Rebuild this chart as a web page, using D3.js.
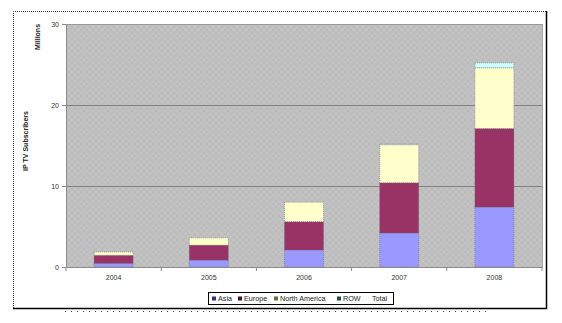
<!DOCTYPE html>
<html>
<head>
<meta charset="utf-8">
<script src="https://cdn.jsdelivr.net/npm/d3@7"></script>
<style>
  body { margin: 0; background: #fff; }
  svg { display: block; font-family: "Liberation Sans", Arial, sans-serif; }
</style>
</head>
<body>
<div id="chart"></div>
<script>
// values in millions
let years = ['2004', '2005', '2006', '2007', '2008'];
let asia = [0.45, 0.85, 2.1, 4.2, 7.4];
let europe = [1.0, 1.85, 3.5, 6.2, 9.7];
let northAmerica = [0.4, 0.9, 2.4, 4.7, 7.5];
let row = [0, 0, 0, 0.1, 0.6];
let yTicks = [0, 10, 20, 30];

let seriesNames = ['Asia', 'Europe', 'North America', 'ROW'];
let seriesColors = ['#9999ff', '#993366', '#ffffcc', '#ccffff'];
let markerColors = ['#33337a', '#4a1030', '#6b6b3a', '#1f4a4a'];

const W = 562, H = 323;
let margin = {left: 66, right: 20, top: 24, bottom: 56};

let svg = d3.select('#chart').append('svg')
    .attr('width', W)
    .attr('height', H);

// texture for the plot area
let defs = svg.append('defs');
let pat = defs.append('pattern')
    .attr('id', 'weave')
    .attr('width', 6).attr('height', 6)
    .attr('patternUnits', 'userSpaceOnUse');
pat.append('rect').attr('width', 6).attr('height', 6).attr('fill', '#c2c2c2');
pat.append('path')
    .attr('d', 'M0,3 L3,0 M3,6 L6,3 M3,0 L6,3 M0,3 L3,6')
    .attr('stroke', '#b6b6b6').attr('stroke-width', 0.7).attr('fill', 'none');

// outer frame
svg.append('path')
    .attr('d', 'M13.5,308 V11.5 H546')
    .attr('fill', 'none').attr('stroke', '#333')
    .attr('stroke-dasharray', '1,1');
svg.append('path')
    .attr('d', 'M13,308.5 H546.5 V11')
    .attr('fill', 'none').attr('stroke', '#000').attr('stroke-width', 1.5);
svg.append('line')
    .attr('x1', 65).attr('x2', 490).attr('y1', 311.5).attr('y2', 311.5)
    .attr('stroke', '#444').attr('stroke-dasharray', '1,5');

let x = d3.scaleBand()
    .domain(years)
    .range([margin.left, 542])
    .paddingInner(0.59)
    .paddingOuter(0.295);

let y = d3.scaleLinear()
    .domain([0, 30])
    .range([267, margin.top]);

// plot background
svg.append('rect')
    .attr('x', margin.left).attr('y', y(30))
    .attr('width', 542 - margin.left).attr('height', y(0) - y(30))
    .attr('fill', 'url(#weave)');

// gridlines
svg.append('g')
    .selectAll('line')
    .data(yTicks.filter(t => t > 0))
    .enter()
    .append('line')
    .attr('x1', margin.left).attr('x2', 542)
    .attr('y1', t => Math.round(y(t)) + 0.5).attr('y2', t => Math.round(y(t)) + 0.5)
    .attr('stroke', (t) => t === 30 ? '#9a9a9a' : '#808080');
svg.append('line')
    .attr('x1', 542.5).attr('x2', 542.5).attr('y1', y(30)).attr('y2', y(0))
    .attr('stroke', '#a8a8a8');

// stacked bars
let table = years.map((yr, i) => ({
    year: yr, Asia: asia[i], Europe: europe[i], 'North America': northAmerica[i], ROW: row[i]
}));
let stacked = d3.stack().keys(seriesNames)(table);

svg.append('g')
    .selectAll('g')
    .data(stacked)
    .enter()
    .append('g')
    .attr('fill', (d, i) => seriesColors[i])
    .selectAll('rect')
    .data(d => d.filter(s => s[1] - s[0] > 0))
    .enter()
    .append('rect')
    .attr('x', d => x(d.data.year))
    .attr('y', d => y(d[1]))
    .attr('width', x.bandwidth())
    .attr('height', d => y(d[0]) - y(d[1]))
    .attr('stroke', '#6a6a7a')
    .attr('stroke-width', 0.6)
    .attr('stroke-dasharray', '1,1');

// y axis
let yAxis = svg.append('g')
    .attr('transform', 'translate(' + margin.left + ',0)')
    .call(d3.axisLeft(y).tickValues(yTicks).tickSize(4).tickSizeOuter(0));
yAxis.select('.domain').attr('stroke', '#8a8a8a');
yAxis.selectAll('line').attr('stroke', '#8a8a8a');
yAxis.selectAll('text').attr('font-size', 7).attr('fill', '#333').attr('font-family', 'Liberation Sans, Arial');

// x axis, ticks between categories
let xAxis = svg.append('g')
    .attr('transform', 'translate(0,' + y(0) + ')')
    .call(d3.axisBottom(x).tickSize(0).tickPadding(8));
xAxis.select('.domain').attr('stroke', '#8a8a8a');
xAxis.selectAll('text').attr('font-size', 7).attr('fill', '#333').attr('font-family', 'Liberation Sans, Arial');
let step = x.step();
xAxis.selectAll('line.sep')
    .data(d3.range(years.length + 1))
    .enter()
    .append('line')
    .attr('class', 'sep')
    .attr('x1', k => margin.left + k * step).attr('x2', k => margin.left + k * step)
    .attr('y1', 0).attr('y2', 4)
    .attr('stroke', '#8a8a8a');

// axis titles
svg.append('text')
    .attr('transform', 'translate(28,141) rotate(-90)')
    .attr('text-anchor', 'middle')
    .attr('font-size', 7).attr('font-weight', 'bold').attr('fill', '#222')
    .text('IP TV Subscribers');
svg.append('text')
    .attr('transform', 'translate(40,37) rotate(-90)')
    .attr('text-anchor', 'middle')
    .attr('font-size', 7).attr('font-weight', 'bold').attr('fill', '#222')
    .text('Millions');

// legend
let legend = svg.append('g');
legend.append('rect')
    .attr('x', 208.5).attr('y', 292.5).attr('width', 185).attr('height', 12)
    .attr('fill', '#fff').attr('stroke', '#000');
let legendX = [212, 238, 274, 337];
let legendItems = legend.selectAll('g.item')
    .data(seriesNames)
    .enter()
    .append('g')
    .attr('class', 'item')
    .attr('transform', (d, i) => 'translate(' + legendX[i] + ',298.5)');
legendItems.append('rect')
    .attr('x', 0).attr('y', -2).attr('width', 4).attr('height', 4)
    .attr('fill', (d, i) => markerColors[i]);
legendItems.append('text')
    .attr('x', 6).attr('y', 2.5)
    .attr('font-size', 7.2).attr('fill', '#222')
    .text(d => d);
legend.append('text')
    .attr('x', 372).attr('y', 301)
    .attr('font-size', 7.2).attr('fill', '#222')
    .text('Total');
</script>
</body>
</html>
